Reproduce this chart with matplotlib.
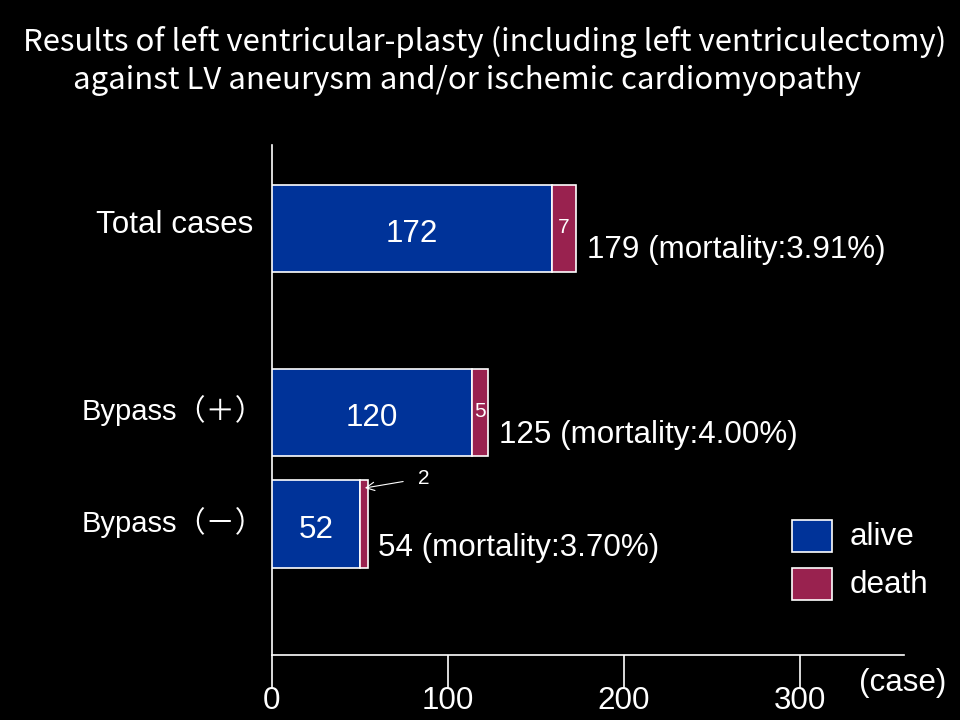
import matplotlib
matplotlib.use("Agg")
import matplotlib.pyplot as plt

# ---- data ----
categories = ["Total cases", "Bypass（＋）", "Bypass（－）"]
alive_counts = [172, 120, 52]
death_counts = [7, 5, 2]
totals = [179, 125, 54]
mortality = ["3.91%", "4.00%", "3.70%"]
# bar lengths as drawn in the picture (case units on the x axis)
alive_drawn = [159.1, 113.6, 50.0]
death_drawn = [13.6, 9.1, 4.5]
xticks = [0, 100, 200, 300]
legend_labels = ["alive", "death"]
title_lines = ["Results of left ventricular-plasty (including left ventriculectomy)",
               "against LV aneurysm and/or ischemic cardiomyopathy"]

ALIVE = "#003399"
DEATH = "#99224F"
FONT = ["Liberation Sans", "Noto Sans CJK JP", "DejaVu Sans"]
JP = ["Noto Sans CJK JP", "DejaVu Sans"]
FS = 22.6

W, H = 960, 720
fig = plt.figure(figsize=(9.6, 7.2), dpi=100, facecolor="black")

# axes in pixel frame: x 272..904, y 145..655
ax_l, ax_r, ax_t, ax_b = 272, 904, 145, 655
ax = fig.add_axes([ax_l / W, (H - ax_b) / H, (ax_r - ax_l) / W, (ax_b - ax_t) / H])
ax.set_facecolor("black")
scale = 1.76  # px per case
ax.set_xlim(0, (ax_r - ax_l) / scale)
ax.set_ylim(ax_b - ax_t, 0)

ypos = [228.5 - ax_t, 412.3 - ax_t, 524.2 - ax_t]
bh = 87.5

ax.barh(ypos, alive_drawn, height=bh, color=ALIVE, edgecolor="white", linewidth=1.2, zorder=3)
ax.barh(ypos, death_drawn, left=alive_drawn, height=bh, color=DEATH, edgecolor="white",
        linewidth=1.2, zorder=3)

# alive numbers inside bars
for y, a, n in zip(ypos, alive_drawn, alive_counts):
    ax.text(a / 2, y + 6, str(n), color="white", fontsize=FS, family=FONT,
            ha="center", va="center", zorder=4)

# death numbers (first two inside, last with arrow)
for i in range(2):
    ax.text(alive_drawn[i] + death_drawn[i] / 2, ypos[i] - 1, str(death_counts[i]),
            color="white", fontsize=15, family=FONT, ha="center", va="center", zorder=4)
ax.annotate(str(death_counts[2]),
            xy=(alive_drawn[2] + death_drawn[2] / 2 + 0.5, 488 - ax_t),
            xytext=((424 - ax_l) / scale, 478 - ax_t),
            color="white", fontsize=15, family=FONT, ha="center", va="center",
            arrowprops=dict(arrowstyle="->", color="white", lw=0.8,
                            shrinkA=9, shrinkB=0), zorder=4)

# totals labels
tot_x = [587, 499, 378]
tot_y = [250, 435, 548]
for x, y, t, m in zip(tot_x, tot_y, totals, mortality):
    ax.text((x - ax_l) / scale, y - ax_t, f"{t} (mortality:{m})", color="white",
            fontsize=FS, family=FONT, ha="left", va="center", zorder=4)

# axes styling
for s in ["top", "right"]:
    ax.spines[s].set_visible(False)
for s in ["left", "bottom"]:
    ax.spines[s].set_color("white")
    ax.spines[s].set_linewidth(1.2)

ax.set_xticks(xticks)
ax.set_xticklabels([str(v) for v in xticks], color="white", fontsize=FS, family=FONT)
ax.tick_params(axis="x", colors="white", length=24, width=1.2, pad=-2)
ax.set_yticks([])

# category labels
cat_x = [253, 82, 82]
cat_ha = ["right", "left", "left"]
cat_y = [225, 411, 523]
cat_fs = [FS, 21, 21]
for x, y, ha, fs, lab in zip(cat_x, cat_y, cat_ha, cat_fs, categories):
    fig.text(x / W, 1 - y / H, lab, color="white", fontsize=fs, family=FONT,
             ha=ha, va="center")

# (case)
fig.text(903 / W, 1 - 683 / H, "(case)", color="white", fontsize=FS, family=FONT,
         ha="center", va="center")

# legend
for i, (lab, col) in enumerate(zip(legend_labels, [ALIVE, DEATH])):
    top = 520 + i * 48
    fig.patches.append(plt.Rectangle((792 / W, 1 - (top + 32) / H), 40 / W, 32 / H,
                                     transform=fig.transFigure, facecolor=col,
                                     edgecolor="white", linewidth=1.2))
    fig.text(850 / W, 1 - (top + 17) / H, lab, color="white", fontsize=FS, family=FONT,
             ha="left", va="center")

# title
fig.text(485 / W, 1 - 42 / H, title_lines[0], color="white", fontsize=22.4, family=JP,
         ha="center", va="center")
fig.text(73 / W, 1 - 80 / H, title_lines[1], color="white", fontsize=22.4, family=JP,
         ha="left", va="center")

fig.savefig("out.png", dpi=100, facecolor="black")
